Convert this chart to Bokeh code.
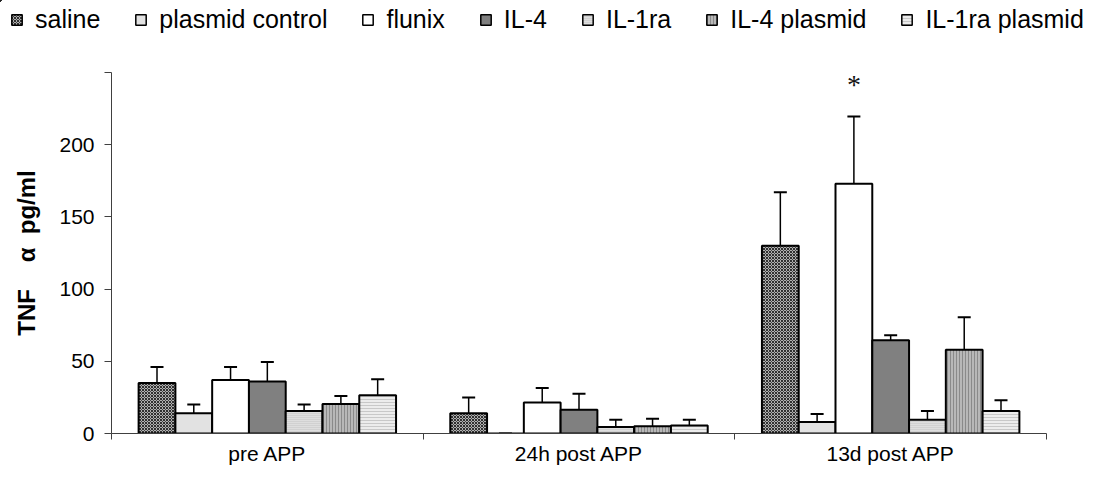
import numpy as np
from bokeh.plotting import figure
from bokeh.layouts import column, row
from bokeh.models import (ColumnDataSource, Range1d, FixedTicker, Whisker, TeeHead,
                          Legend, LegendItem)
from bokeh.core.properties import value
from bokeh.embed import file_html
from bokeh.resources import INLINE

# ---------------- data ----------------
categories = ["pre APP", "24h post APP", "13d post APP"]
series_names = ["saline", "plasmid control", "flunix", "IL-4", "IL-1ra",
                "IL-4 plasmid", "IL-1ra plasmid"]

saline = [35, 14, 130]
plasmid_control = [14, 0, 8]
flunix = [37, 21.5, 173]
il4 = [36, 16.5, 64.5]
il1ra = [15.5, 4.5, 9.5]
il4_plasmid = [20.5, 5, 58]
il1ra_plasmid = [26.5, 5.5, 15.5]

saline_err = [11, 11, 37]
plasmid_control_err = [6, 0, 5.5]
flunix_err = [9, 10, 46.5]
il4_err = [13.5, 11, 3.5]
il1ra_err = [4.5, 5, 6]
il4_plasmid_err = [5.5, 5.2, 22.5]
il1ra_plasmid_err = [11, 4, 7.5]

y_ticks = [0, 50, 100, 150, 200, 250]
y_label = "TNF\u00a0\u00a0\u00a0\u00a0α\u00a0\u00a0pg/ml"
significance_group = "13d post APP"
significance_series = "flunix"

means = [saline, plasmid_control, flunix, il4, il1ra, il4_plasmid, il1ra_plasmid]
errs = [saline_err, plasmid_control_err, flunix_err, il4_err, il1ra_err,
        il4_plasmid_err, il1ra_plasmid_err]

# ---------------- styles ----------------
styles = [
    dict(fill_color="#b0b0b0", hatch_pattern="diagonal_cross", hatch_color="#303030", hatch_scale=3, hatch_weight=1),
    dict(fill_color="#e2e2e2"),
    dict(fill_color="#ffffff"),
    dict(fill_color="#808080"),
    dict(fill_color="#dedede", hatch_pattern="horizontal_line", hatch_color="#c4c4c4", hatch_scale=2, hatch_weight=1),
    dict(fill_color="#b8b8b8", hatch_pattern="vertical_line", hatch_color="#8a8a8a", hatch_scale=3, hatch_weight=1),
    dict(fill_color="#ececec", hatch_pattern="horizontal_line", hatch_color="#c8c8c8", hatch_scale=3, hatch_weight=1),
]

FONT = "Liberation Sans"
W, H = 1088, 467
LEG_H = 34
bar_w = 0.118
n = len(series_names)
group_centers = np.arange(len(categories)) + 0.5

# ---------------- legend strip (own figure; its copies of the bars lie outside its view) ----------------
leg = figure(width=W, height=LEG_H, output_backend="svg", toolbar_location=None,
             x_range=Range1d(100, 101), y_range=Range1d(-101, -100),
             x_axis_type=None, y_axis_type=None,
             min_border_left=0, min_border_right=0, min_border_top=0, min_border_bottom=0)
leg.grid.visible = False
leg.outline_line_color = None

items = []
for i, (name, m, st) in enumerate(zip(series_names, means, styles)):
    xs = group_centers + (i - (n - 1) / 2) * bar_w
    r = leg.vbar(x=xs, top=m, bottom=0, width=bar_w, line_color="black", line_width=1.5, **st)
    items.append(LegendItem(label=name, renderers=[r]))
legend = Legend(items=items, orientation="horizontal", location=(10, 0),
                label_text_font=FONT, label_text_font_size="25px", label_text_color="black",
                glyph_width=13, glyph_height=13, label_standoff=12, spacing=34,
                padding=0, margin=0, border_line_color=None, background_fill_alpha=0)
leg.add_layout(legend)

# ---------------- main chart ----------------
p = figure(width=W, height=H - LEG_H, output_backend="svg", toolbar_location=None,
           x_range=Range1d(0, 3), y_range=Range1d(0, 250),
           min_border_left=111, min_border_right=42, min_border_top=72 - LEG_H,
           min_border_bottom=31)
p.grid.visible = False
p.outline_line_color = None

for i, (name, m, e, st) in enumerate(zip(series_names, means, errs, styles)):
    xs = group_centers + (i - (n - 1) / 2) * bar_w
    m = np.array(m, dtype=float)
    e = np.array(e, dtype=float)
    src = ColumnDataSource(dict(x=xs, top=m, upper=m + e))
    p.vbar(x="x", top="top", bottom=0, width=bar_w, source=src,
           line_color="black", line_width=2, **st)
    w = Whisker(source=src, base="x", upper="upper", lower="top", dimension="height",
                line_color="black", line_width=1.5,
                upper_head=TeeHead(size=13, line_color="black", line_width=2),
                lower_head=None)
    p.add_layout(w)

# significance marker
gi = categories.index(significance_group)
si = series_names.index(significance_series)
sx = group_centers[gi] + (si - (n - 1) / 2) * bar_w
sy = means[si][gi] + errs[si][gi]
p.text(x=[sx], y=[sy], text=["*"], text_font=value("Liberation Serif"),
       text_font_size="28px", text_align="center", text_baseline="middle",
       y_offset=-32, text_color="#111111")

# y axis
ya = p.yaxis[0]
ya.ticker = FixedTicker(ticks=y_ticks)
ya.major_label_overrides = {250: ""}
ya.major_label_text_font = FONT
ya.major_label_text_font_size = "21px"
ya.major_label_text_color = "black"
ya.major_tick_out = 7
ya.major_tick_in = 0
ya.minor_tick_line_color = None
ya.axis_line_color = "#404040"
ya.major_tick_line_color = "#404040"
ya.major_label_standoff = 10
ya.axis_label = y_label
ya.axis_label_text_font = FONT
ya.axis_label_text_font_style = "bold"
ya.axis_label_text_font_size = "24px"
ya.axis_label_text_color = "black"
ya.axis_label_standoff = 16

# x axis
xa = p.xaxis[0]
xa.ticker = FixedTicker(ticks=list(group_centers), minor_ticks=[0, 1, 2, 3])
xa.major_label_overrides = {float(c): lab for c, lab in zip(group_centers, categories)}
xa.major_label_text_font = FONT
xa.major_label_text_font_size = "21px"
xa.major_label_text_color = "black"
xa.major_tick_out = 0
xa.major_tick_in = 0
xa.minor_tick_out = 6
xa.minor_tick_in = 0
xa.minor_tick_line_color = "#404040"
xa.axis_line_color = "#404040"
xa.major_label_standoff = 2

layout = column(row(leg, spacing=0), p, spacing=0)
open("out.html", "w").write(file_html(layout, INLINE))
